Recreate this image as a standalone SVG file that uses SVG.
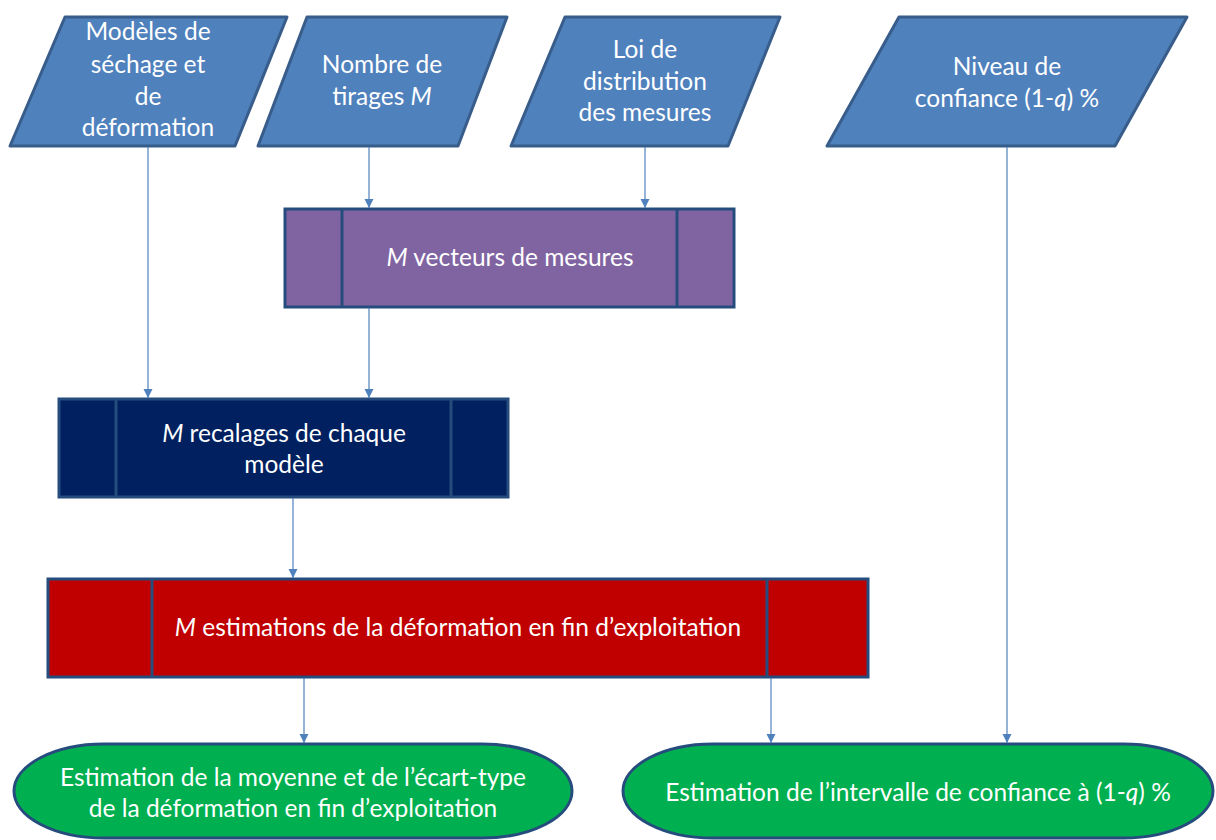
<svg xmlns="http://www.w3.org/2000/svg" width="1216" height="840" viewBox="0 0 1216 840">
<defs>
<marker id="ah" markerWidth="10" markerHeight="10" refX="9" refY="5" orient="auto" markerUnits="userSpaceOnUse">
<path d="M0,0.5 L9,5 L0,9.5 Z" fill="#4F81BD"/>
</marker>
</defs>
<style>
.para{fill:#4F81BD;stroke:#385D8A;stroke-width:3;stroke-linejoin:round}
.box{stroke:#264C7E;stroke-width:3}
.div{stroke:#264C7E;stroke-width:3}
.term{fill:#00B050;stroke:#264C7E;stroke-width:3}
.t{font-family:Lato,"Liberation Sans",sans-serif;font-size:24.5px;fill:#FFFFFF;text-anchor:middle}
.c{fill:none;stroke:#4F81BD;stroke-width:1.2;marker-end:url(#ah)}
</style>
<rect width="1216" height="840" fill="#FFFFFF"/>

<g id="n1">
<polygon class="para" points="65,17 287,17 235,146 10,146"/>
<text class="t" x="148" y="40">Modèles de</text>
<text class="t" x="148" y="73">séchage et</text>
<text class="t" x="148" y="105">de</text>
<text class="t" x="148" y="136">déformation</text>
</g>
<g id="n2">
<polygon class="para" points="307,17 507,17 458,146 258,146"/>
<text class="t" x="382" y="73">Nombre de</text>
<text class="t" x="382" y="105">tirages <tspan font-style="italic">M</tspan></text>
</g>
<g id="n3">
<polygon class="para" points="565,17 780,17 728,146 511,146"/>
<text class="t" x="645" y="58">Loi de</text>
<text class="t" x="645" y="90">distribution</text>
<text class="t" x="645" y="121">des mesures</text>
</g>
<g id="n4">
<polygon class="para" points="899,17 1187,17 1115,146 827,146"/>
<text class="t" x="1007" y="75">Niveau de</text>
<text class="t" x="1007" y="107">confiance (1-<tspan font-style="italic">q</tspan>) %</text>
</g>

<g id="n5">
<rect class="box" x="285" y="209" width="449" height="98" fill="#8064A2"/>
<line class="div" x1="342" y1="209" x2="342" y2="307"/>
<line class="div" x1="677" y1="209" x2="677" y2="307"/>
<text class="t" x="510" y="266"><tspan font-style="italic">M</tspan> vecteurs de mesures</text>
</g>
<g id="n6">
<rect class="box" x="59" y="399" width="449" height="98" fill="#002060"/>
<line class="div" x1="116" y1="399" x2="116" y2="497"/>
<line class="div" x1="451" y1="399" x2="451" y2="497"/>
<text class="t" x="284" y="442"><tspan font-style="italic">M</tspan> recalages de chaque</text>
<text class="t" x="284" y="473">modèle</text>
</g>
<g id="n7">
<rect class="box" x="48" y="579" width="820" height="98" fill="#C00000"/>
<line class="div" x1="152" y1="579" x2="152" y2="677"/>
<line class="div" x1="767" y1="579" x2="767" y2="677"/>
<text class="t" x="458" y="636"><tspan font-style="italic">M</tspan> estimations de la déformation en fin d’exploitation</text>
</g>
<g id="n8">
<rect class="term" x="14" y="744" width="558" height="94" rx="90" ry="47"/>
<text class="t" x="293" y="786">Estimation de la moyenne et de l’écart-type</text>
<text class="t" x="293" y="817">de la déformation en fin d’exploitation</text>
</g>
<g id="n9">
<rect class="term" x="623" y="744" width="590" height="94" rx="90" ry="47"/>
<text class="t" x="918" y="801">Estimation de l’intervalle de confiance à (1-<tspan font-style="italic">q</tspan>) %</text>
</g>

<g id="connectors">
<line class="c" x1="148" y1="147" x2="148" y2="398"/>
<line class="c" x1="369" y1="147" x2="369" y2="208"/>
<line class="c" x1="645" y1="147" x2="645" y2="208"/>
<line class="c" x1="369" y1="308" x2="369" y2="398"/>
<line class="c" x1="293" y1="498" x2="293" y2="578"/>
<line class="c" x1="304" y1="678" x2="304" y2="743"/>
<line class="c" x1="771" y1="678" x2="771" y2="743"/>
<line class="c" x1="1007" y1="147" x2="1007" y2="743"/>
</g>
</svg>
